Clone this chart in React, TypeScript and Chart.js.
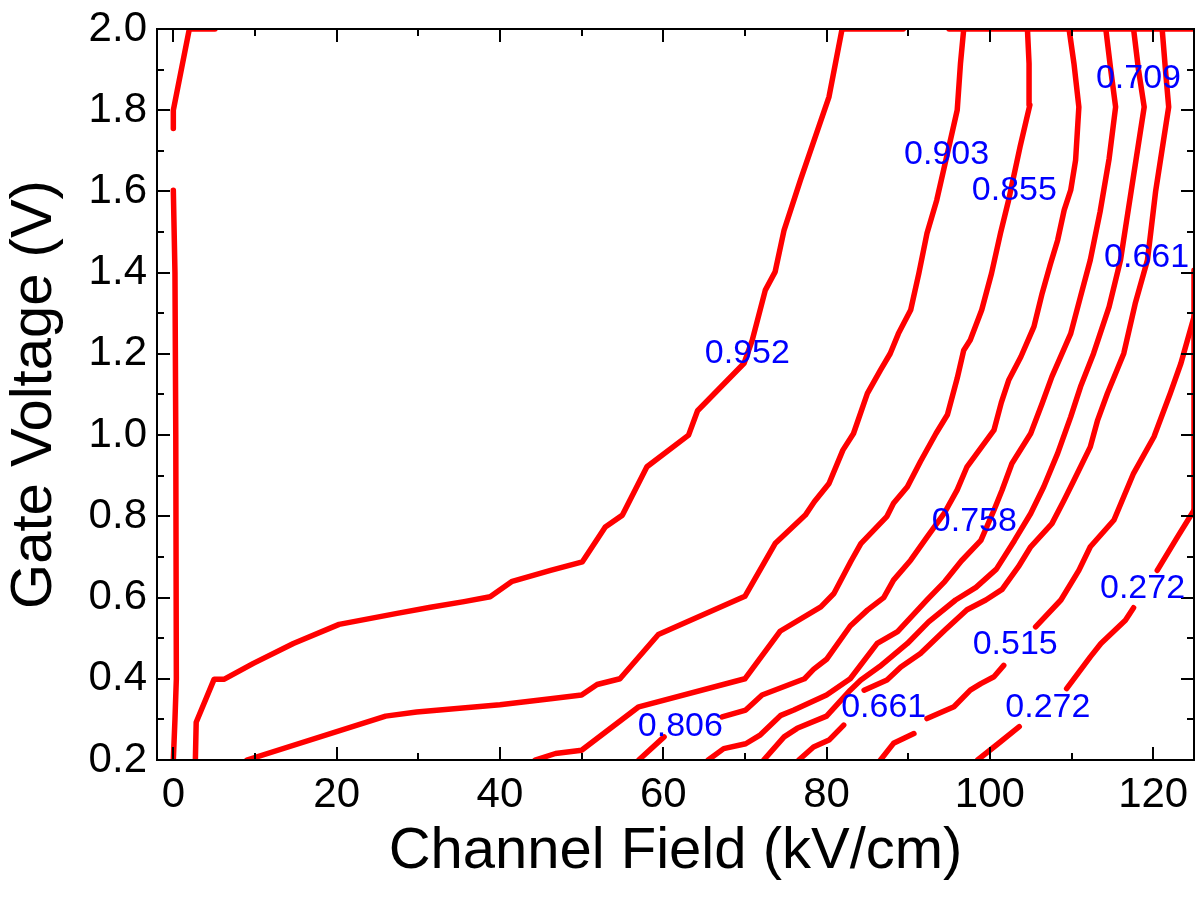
import { useEffect, useRef } from 'react';
import { Chart, registerables } from 'chart.js';

Chart.register(...registerables);

type P = [number, number] | null;

// Axis ticks
const xMajorTicks = [0, 20, 40, 60, 80, 100, 120];
const xMinorTicks = [10, 30, 50, 70, 90, 110];
const yMajorTicks = [0.2, 0.4, 0.6, 0.8, 1.0, 1.2, 1.4, 1.6, 1.8, 2.0];
const yMinorTicks = [0.3, 0.5, 0.7, 0.9, 1.1, 1.3, 1.5, 1.7, 1.9];

// Contour lines (x: channel field kV/cm, y: gate voltage V); null = gap
const contourLeftVertical: P[] = [[0, 1.603], [0.2, 1.4], [0.3, 1.0], [0.37, 0.4], [0.2, 0.3], [0, 0.2]];
const contourLeftTop: P[] = [[0, 1.755], [0, 1.8], [1.96, 2.0], [5.1, 2.0]];
const contour0952: P[] = [
  [2.7, 0.2], [2.8, 0.293], [5.0, 0.399], [6.25, 0.399], [9.8, 0.438], [14.7, 0.487], [20.3, 0.534],
  [27.4, 0.561], [31.5, 0.576], [35.6, 0.59], [38.8, 0.602], [41.5, 0.64], [46.2, 0.667], [50.1, 0.688],
  [52.9, 0.774], [55.0, 0.803], [58.0, 0.922], [63.1, 1.0], [64.2, 1.06], [69.9, 1.177], [70.9, 1.234],
  [72.5, 1.357], [73.7, 1.402], [74.8, 1.505], [76.8, 1.628], [80.3, 1.833], [81.9, 2.0],
];
const contour0903: P[] = [
  [9.0, 0.2], [26.0, 0.308], [29.8, 0.318], [40.0, 0.336], [46.2, 0.351], [50.0, 0.36], [51.9, 0.386],
  [54.7, 0.4], [59.4, 0.509], [70.0, 0.603], [73.7, 0.733], [77.4, 0.803], [78.5, 0.836], [80.3, 0.881],
  [82.0, 0.963], [83.3, 1.004], [85.0, 1.103], [86.6, 1.16], [87.8, 1.201], [88.8, 1.25], [90.3, 1.308],
  [91.3, 1.398], [92.3, 1.497], [93.5, 1.579], [94.8, 1.694], [96.0, 1.8], [96.4, 1.915], [96.8, 2.0],
];
const contour0855: P[] = [
  [44.3, 0.2], [46.8, 0.216], [50.0, 0.224], [57.0, 0.331], [70.0, 0.4], [74.3, 0.517], [79.3, 0.577],
  [80.9, 0.61], [83.0, 0.69], [84.2, 0.733], [87.4, 0.8], [88.2, 0.832], [89.9, 0.873], [91.5, 0.935],
  [93.4, 1.004], [94.8, 1.05], [96.0, 1.14], [96.8, 1.209], [97.6, 1.234], [99.0, 1.308], [100.2, 1.398],
  [101.3, 1.497], [102.3, 1.579], [103.7, 1.71], [104.9, 1.813], [104.8, 1.915], [104.6, 2.0],
];
const contour0806: P[] = [
  [57.0, 0.2], [60.1, 0.257], null, [67.2, 0.306], [70.1, 0.323], [72.1, 0.36], [77.3, 0.4], [78.4, 0.423],
  [80.0, 0.448], [82.9, 0.53], [85.0, 0.569], [87.0, 0.6], [88.2, 0.643], [90.3, 0.692], [92.3, 0.749],
  [94.4, 0.807], [96.0, 0.865], [97.2, 0.922], [100.5, 1.012], [101.4, 1.08], [102.3, 1.135], [103.8, 1.193],
  [105.4, 1.267], [106.4, 1.349], [107.4, 1.42], [108.3, 1.48], [109.1, 1.554], [109.9, 1.603], [110.5, 1.677],
  [110.9, 1.808], [110.3, 1.915], [109.7, 2.0],
];
const contour0758: P[] = [
  [65.5, 0.2], [67.4, 0.228], [70.1, 0.24], [71.9, 0.262], [74.4, 0.31], [76.0, 0.323], [80.0, 0.36],
  [82.9, 0.4], [86.2, 0.487], [88.7, 0.516], [92.3, 0.594], [94.5, 0.64], [96.5, 0.69], [98.9, 0.741],
  [100.5, 0.815], [101.5, 0.865], [102.7, 0.93], [105.0, 1.004], [106.4, 1.078], [107.6, 1.144],
  [109.9, 1.25], [111.1, 1.341], [112.3, 1.431], [113.5, 1.55], [114.6, 1.68], [115.4, 1.808], [114.8, 1.9],
  [114.2, 2.0],
];
const contour0709: P[] = [
  [72.3, 0.2], [74.8, 0.257], [76.4, 0.278], [80.0, 0.308], [82.9, 0.372], [84.2, 0.397], [86.5, 0.43],
  [89.9, 0.487], [92.5, 0.54], [95.8, 0.594], [98.3, 0.625], [100.8, 0.67], [103.0, 0.74], [105.0, 0.807],
  [106.6, 0.873], [108.3, 0.955], [109.9, 1.045], [111.1, 1.119], [112.7, 1.201], [114.6, 1.316],
  [116.0, 1.431], [117.3, 1.6], [118.9, 1.808], [118.2, 1.9], [117.6, 2.0],
];
const contour0661: P[] = [
  [76.6, 0.2], [78.4, 0.232], [80.3, 0.249], [82.1, 0.286], null, [84.6, 0.372], [87.4, 0.397], [89.1, 0.429],
  [91.5, 0.462], [94.5, 0.52], [97.2, 0.57], [99.5, 0.594], [101.5, 0.62], [103.5, 0.676], [105.0, 0.725],
  [107.6, 0.782], [109.1, 0.84], [110.3, 0.889], [112.3, 0.971], [113.2, 1.037], [114.4, 1.103],
  [116.4, 1.201], [117.8, 1.324], [119.3, 1.431], [120.3, 1.6], [121.9, 1.808], [121.5, 1.9], [121.1, 2.0],
];
const contour0515: P[] = [
  [86.6, 0.2], [88.2, 0.241], [90.7, 0.265], null, [92.3, 0.302], [95.6, 0.331], [97.6, 0.372], [98.9, 0.388],
  [100.5, 0.405], [101.7, 0.433], null, [105.6, 0.528], [108.7, 0.594], [110.9, 0.667], [112.3, 0.725],
  [115.2, 0.791], [117.6, 0.906], [120.1, 0.996], [122.1, 1.103], [123.4, 1.177], [125.0, 1.291],
];
const contour0272: P[] = [
  [98.5, 0.2], [101.0, 0.24], [103.6, 0.282], null, [109.4, 0.376], [112.3, 0.454], [113.6, 0.487],
  [116.6, 0.544], [117.6, 0.575], null, [120.5, 0.667], [123.0, 0.75], [125.0, 0.815],
];
const boundaryTop: P[] = [[81.9, 2.0], [89.4, 2.0], null, [95.0, 2.0], [125.0, 2.0]];
const boundaryRight: P[] = [[125.0, 1.406], [125.0, 0.815]];

const contours: P[][] = [
  contourLeftVertical, contourLeftTop, contour0952, contour0903, contour0855, contour0806,
  contour0758, contour0709, contour0661, contour0515, contour0272, boundaryTop, boundaryRight,
];

// Contour labels
const labelTexts = ['0.952', '0.903', '0.855', '0.709', '0.661', '0.758', '0.806', '0.661', '0.515', '0.272', '0.272'];
const labelXs = [70.3, 94.7, 103.0, 118.2, 119.2, 98.1, 62.1, 87.0, 103.1, 107.1, 118.7];
const labelYs = [1.201, 1.69, 1.603, 1.877, 1.436, 0.786, 0.281, 0.33, 0.483, 0.328, 0.623];

const FONT = '"Liberation Sans", Arial, Helvetica, sans-serif';

const toPoints = (arr: P[]) => {
  let lastX = 0;
  return arr.map((p) => {
    if (p === null) return { x: lastX, y: null as any };
    lastX = p[0];
    return { x: p[0], y: p[1] };
  });
};

const framePlugin = {
  id: 'frameTicksLabels',
  afterDatasetsDraw(chart: any) {
    const { ctx, chartArea } = chart;
    const { left, right, top, bottom } = chartArea;
    const xs = chart.scales.x;
    const ys = chart.scales.y;
    ctx.save();
    ctx.strokeStyle = '#000';
    ctx.lineWidth = 2;
    ctx.lineCap = 'butt';
    ctx.strokeRect(left, top, right - left, bottom - top);
    const seg = (x1: number, y1: number, x2: number, y2: number) => {
      ctx.beginPath();
      ctx.moveTo(x1, y1);
      ctx.lineTo(x2, y2);
      ctx.stroke();
    };
    const MAJ = 13;
    const MIN = 7;
    xMajorTicks.forEach((v) => {
      const px = Math.round(xs.getPixelForValue(v));
      seg(px, bottom, px, bottom - MAJ);
      seg(px, top, px, top + MAJ);
    });
    xMinorTicks.forEach((v) => {
      const px = Math.round(xs.getPixelForValue(v));
      seg(px, bottom, px, bottom - MIN);
      seg(px, top, px, top + MIN);
    });
    yMajorTicks.forEach((v) => {
      const py = Math.round(ys.getPixelForValue(v));
      seg(left, py, left + MAJ, py);
      seg(right, py, right - MAJ, py);
    });
    yMinorTicks.forEach((v) => {
      const py = Math.round(ys.getPixelForValue(v));
      seg(left, py, left + MIN, py);
      seg(right, py, right - MIN, py);
    });
    ctx.fillStyle = '#0000ff';
    ctx.font = `34px ${FONT}`;
    ctx.textAlign = 'center';
    ctx.textBaseline = 'middle';
    labelTexts.forEach((t, i) => {
      ctx.fillText(t, xs.getPixelForValue(labelXs[i]), ys.getPixelForValue(labelYs[i]));
    });
    ctx.restore();
  },
};

export default function App() {
  const canvasRef = useRef<HTMLCanvasElement | null>(null);

  useEffect(() => {
    if (!canvasRef.current) return;
    Chart.defaults.font.family = FONT;
    const chart = new Chart(canvasRef.current, {
      type: 'scatter',
      data: {
        datasets: contours.map((c) => ({
          data: toPoints(c),
          showLine: true,
          spanGaps: false,
          borderColor: '#ff0000',
          backgroundColor: '#ff0000',
          borderWidth: 5.5,
          borderCapStyle: 'round',
          borderJoinStyle: 'round',
          pointRadius: 0,
          pointHoverRadius: 0,
          tension: 0,
        })) as any,
      },
      options: {
        animation: false,
        responsive: false,
        events: [],
        layout: { padding: { left: 0, top: 29, right: 2, bottom: 0 } },
        plugins: { legend: { display: false }, tooltip: { enabled: false } },
        scales: {
          x: {
            type: 'linear',
            min: -2,
            max: 125,
            grid: { display: false, drawTicks: false },
            border: { display: false },
            afterBuildTicks: (s: any) => {
              s.ticks = xMajorTicks.map((v) => ({ value: v }));
            },
            afterFit: (s: any) => {
              s.height = 141;
              s.paddingLeft = 0;
              s.paddingRight = 0;
            },
            ticks: {
              color: '#000',
              font: { size: 42 },
              padding: 10,
              autoSkip: false,
              maxRotation: 0,
              callback: (v: any) => String(v),
            },
            title: {
              display: true,
              text: 'Channel Field (kV/cm)',
              color: '#000',
              font: { size: 58 },
              padding: { top: 0, bottom: 14 },
            },
          },
          y: {
            type: 'linear',
            min: 0.2,
            max: 2.0,
            grid: { display: false, drawTicks: false },
            border: { display: false },
            afterBuildTicks: (s: any) => {
              s.ticks = yMajorTicks.map((v) => ({ value: v }));
            },
            afterFit: (s: any) => {
              s.width = 157;
              s.paddingTop = 0;
              s.paddingBottom = 0;
            },
            ticks: {
              color: '#000',
              font: { size: 42 },
              padding: 10,
              autoSkip: false,
              callback: (v: any) => Number(v).toFixed(1),
            },
            title: {
              display: true,
              text: 'Gate Voltage (V)',
              color: '#000',
              font: { size: 58 },
              padding: { top: 0, bottom: 0 },
            },
          },
        },
      } as any,
      plugins: [framePlugin],
    });
    return () => chart.destroy();
  }, []);

  return (
    <div style={{ position: 'absolute', left: 0, top: 0, width: 1196, height: 901, background: '#fff' }}>
      <canvas ref={canvasRef} width={1196} height={901} style={{ display: 'block' }} />
    </div>
  );
}
